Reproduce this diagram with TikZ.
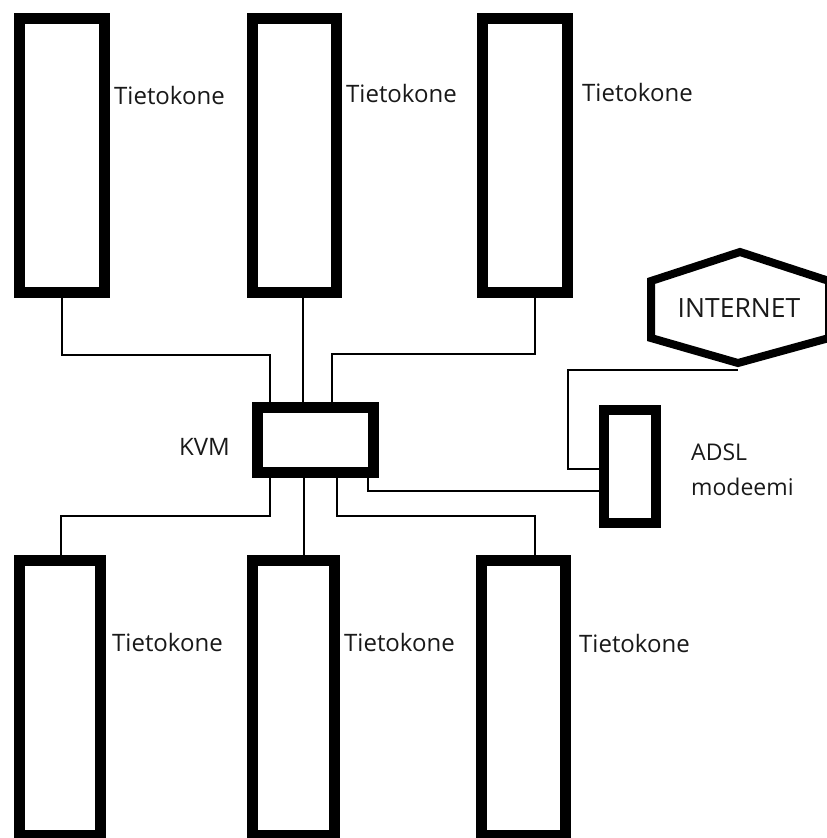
\documentclass[tikz,border=0pt]{standalone}
\usepackage{fontspec}
\setmainfont{Open Sans}
\definecolor{txt}{RGB}{25,25,25}
\begin{document}
\begin{tikzpicture}[x=1pt,y=-1pt,
  pc/.style={draw=black,line width=11pt,minimum width=#1,minimum height=274pt,inner sep=0pt,fill=white},
  wire/.style={draw=black,line width=2pt},
  lbl/.style={anchor=west,inner sep=0pt,text=txt,font=\fontsize{24}{28}\selectfont}]
\useasboundingbox (0,0) rectangle (827,838);
% computers top
\node[pc=84.5pt] (t1) at (61.75,155) {};
\node[pc=84pt] (t2) at (294.5,155) {};
\node[pc=85pt] (t3) at (525,155) {};
% computers bottom
\node[pc=81pt,minimum height=275.5pt] (b1) at (60,698) {};
\node[pc=82pt,minimum height=275.5pt] (b2) at (293.5,698) {};
\node[pc=84pt,minimum height=275.5pt] (b3) at (523.5,698) {};
% KVM
\node[draw=black,line width=11pt,minimum width=116pt,minimum height=65pt,inner sep=0pt] (kvm) at (315,439.5) {};
% ADSL
\node[draw=black,line width=10pt,minimum width=52pt,minimum height=113pt,inner sep=0pt] (adsl) at (630,466) {};
% Internet hexagon
\draw[line width=8pt,line join=miter] (740,252) -- (651,281) -- (651,338) -- (738,363) -- (829,338) -- (829,281) -- cycle;
\coordinate (inetb) at (738,370);
\node[inner sep=0pt,text=txt,font=\fontsize{26.5}{30}\selectfont] (inet) at (739,308) {INTERNET};
% labels
\node[lbl] (l1) at (114,95) {Tietokone};
\node[lbl] (l2) at (346,93) {Tietokone};
\node[lbl] (l3) at (582,92) {Tietokone};
\node[lbl] (l4) at (112,642) {Tietokone};
\node[lbl] (l5) at (344,642) {Tietokone};
\node[lbl] (l6) at (579,643) {Tietokone};
\node[lbl] (lk) at (179,447) {KVM};
\node[lbl,font=\fontsize{23}{27}\selectfont] (la) at (691,452) {ADSL};
\node[lbl,font=\fontsize{23}{27}\selectfont] (lm) at (691,487) {modeemi};
% wires top
\draw[wire] (t1.south) -- ++(0,57) -| ([xshift=-45pt]kvm.north);
\draw[wire] ([xshift=8.5pt]t2.south) -- ([xshift=-12pt]kvm.north);
\draw[wire] ([xshift=10pt]t3.south) -- ++(0,56) -| ([xshift=17pt]kvm.north);
% wires bottom
\draw[wire] ([xshift=-45pt]kvm.south) -- ++(0,38) -| ([xshift=1pt]b1.north);
\draw[wire] ([xshift=-11.5pt]kvm.south) -- ([xshift=10pt]b2.north);
\draw[wire] ([xshift=22pt]kvm.south) -- ++(0,38) -| ([xshift=11.5pt]b3.north);
% KVM to ADSL
\draw[wire] ([xshift=53pt]kvm.south) |- ([yshift=-25pt]adsl.west);
% ADSL to Internet
\draw[wire] ([yshift=-3pt]adsl.west) -- ++(-31,0) |- (inetb);
\end{tikzpicture}
\end{document}
